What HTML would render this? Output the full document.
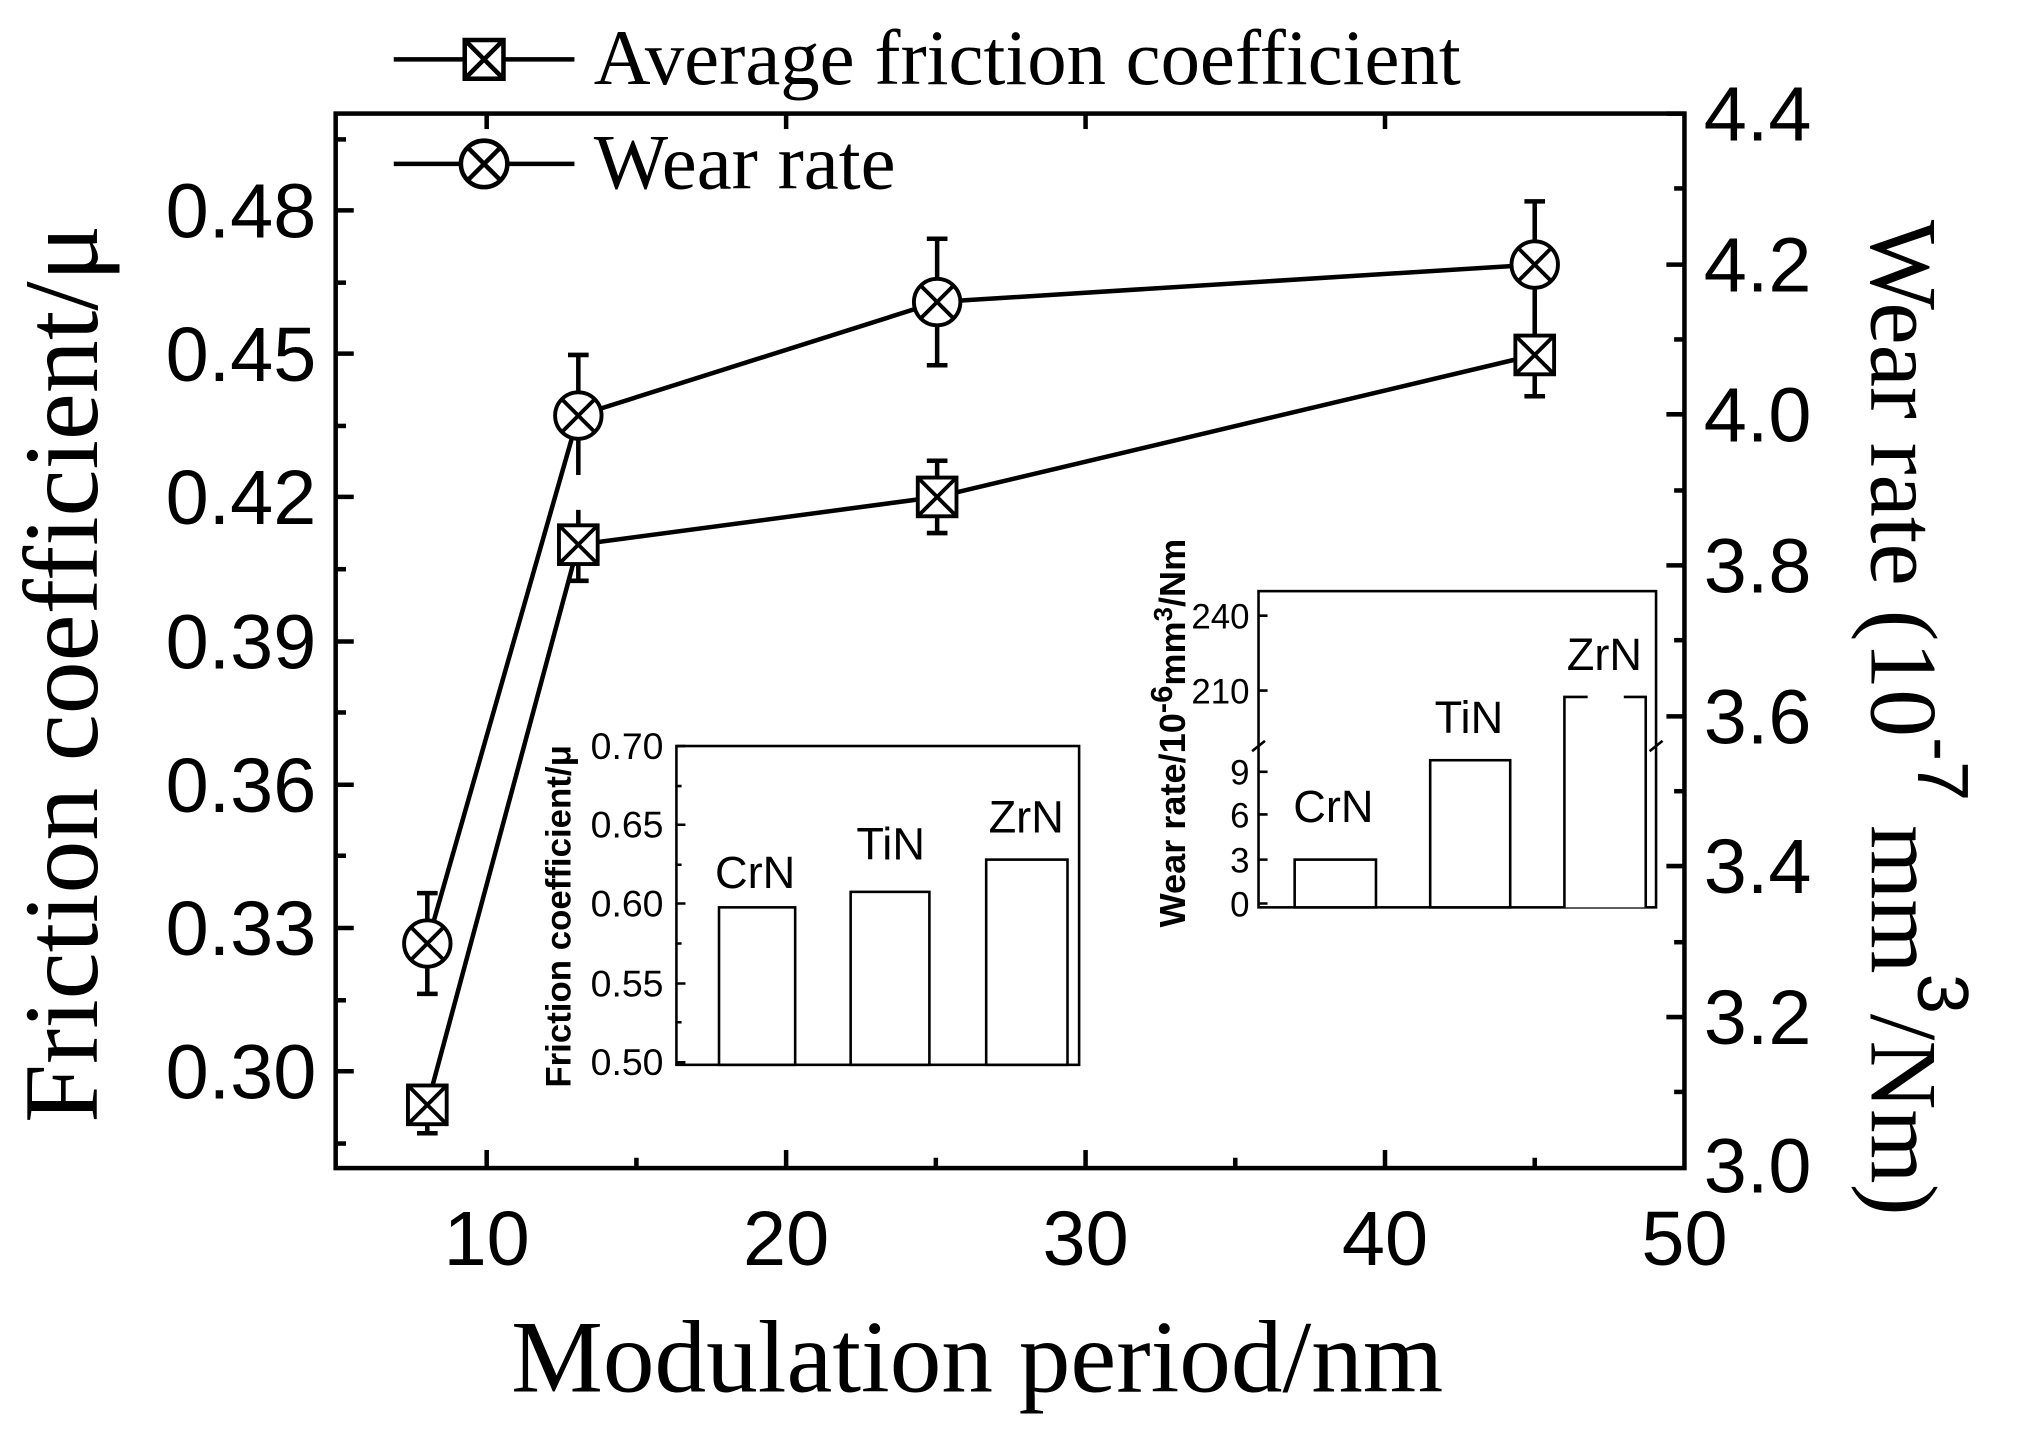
<!DOCTYPE html>
<html><head><meta charset="utf-8"><style>html,body{margin:0;padding:0;background:#fff}svg{display:block}</style></head>
<body>
<svg width="2024" height="1443" viewBox="0 0 1568 1118" xmlns="http://www.w3.org/2000/svg">
<g fill="none" stroke="#000" stroke-width="3.5">
<rect x="260" y="88" width="1045" height="817"/>
</g>
<g stroke="#000" stroke-width="3.5">
<line x1="377" y1="905" x2="377" y2="891"/><line x1="609" y1="905" x2="609" y2="891"/><line x1="841" y1="905" x2="841" y2="891"/><line x1="1073" y1="905" x2="1073" y2="891"/>
<line x1="493" y1="905" x2="493" y2="897"/><line x1="725" y1="905" x2="725" y2="897"/><line x1="957" y1="905" x2="957" y2="897"/><line x1="1189" y1="905" x2="1189" y2="897"/>
<line x1="377" y1="88" x2="377" y2="100"/><line x1="609" y1="88" x2="609" y2="100"/><line x1="841" y1="88" x2="841" y2="100"/><line x1="1073" y1="88" x2="1073" y2="100"/>
<line x1="260" y1="163" x2="274" y2="163"/><line x1="260" y1="274" x2="274" y2="274"/><line x1="260" y1="385" x2="274" y2="385"/><line x1="260" y1="497" x2="274" y2="497"/><line x1="260" y1="608" x2="274" y2="608"/><line x1="260" y1="719" x2="274" y2="719"/><line x1="260" y1="830" x2="274" y2="830"/>
<line x1="260" y1="219" x2="268" y2="219"/><line x1="260" y1="330" x2="268" y2="330"/><line x1="260" y1="441" x2="268" y2="441"/><line x1="260" y1="552" x2="268" y2="552"/><line x1="260" y1="663" x2="268" y2="663"/><line x1="260" y1="775" x2="268" y2="775"/><line x1="260" y1="886" x2="268" y2="886"/><line x1="260" y1="108" x2="268" y2="108"/>
<line x1="1305" y1="88" x2="1291" y2="88"/><line x1="1305" y1="205" x2="1291" y2="205"/><line x1="1305" y1="321" x2="1291" y2="321"/><line x1="1305" y1="438" x2="1291" y2="438"/><line x1="1305" y1="555" x2="1291" y2="555"/><line x1="1305" y1="671" x2="1291" y2="671"/><line x1="1305" y1="788" x2="1291" y2="788"/>
<line x1="1305" y1="146" x2="1297" y2="146"/><line x1="1305" y1="263" x2="1297" y2="263"/><line x1="1305" y1="380" x2="1297" y2="380"/><line x1="1305" y1="496" x2="1297" y2="496"/><line x1="1305" y1="613" x2="1297" y2="613"/><line x1="1305" y1="730" x2="1297" y2="730"/><line x1="1305" y1="846" x2="1297" y2="846"/>
</g>
<g font-family="Liberation Sans, Arial, sans-serif" font-size="60" fill="#000">
<g text-anchor="middle">
<text x="377" y="980">10</text><text x="609" y="980">20</text><text x="841" y="980">30</text><text x="1073" y="980">40</text><text x="1305" y="980">50</text>
</g>
<g text-anchor="end">
<text x="245" y="184">0.48</text><text x="245" y="295">0.45</text><text x="245" y="406">0.42</text><text x="245" y="518">0.39</text><text x="245" y="629">0.36</text><text x="245" y="740">0.33</text><text x="245" y="851">0.30</text>
</g>
<g text-anchor="start">
<text x="1320" y="109">4.4</text><text x="1320" y="226">4.2</text><text x="1320" y="342">4.0</text><text x="1320" y="459">3.8</text><text x="1320" y="576">3.6</text><text x="1320" y="692">3.4</text><text x="1320" y="809">3.2</text><text x="1320" y="924">3.0</text>
</g>
</g>
<g font-family="Liberation Serif, Times New Roman, serif" fill="#000">
<text x="757" y="1078" font-size="80" text-anchor="middle">Modulation period/nm</text>
<text transform="translate(75,522) rotate(-90)" font-size="82" text-anchor="middle">Friction coefficient/μ</text>
<text transform="translate(1450,556) rotate(90)" font-size="74" text-anchor="middle">Wear rate (10<tspan font-family="Liberation Sans" font-size="56" dy="-36">-7</tspan><tspan dy="36"> mm</tspan><tspan font-family="Liberation Sans" font-size="56" dy="-36">3</tspan><tspan dy="36">/Nm)</tspan></text>
<text x="460" y="65" font-size="61">Average friction coefficient</text>
<text x="460" y="146" font-size="61">Wear rate</text>
</g>
<g stroke="#000" stroke-width="3.5" fill="none">
<line x1="305" y1="46" x2="445" y2="46"/>
<rect x="360" y="31" width="30" height="30" fill="#fff"/><line x1="360" y1="31" x2="390" y2="61"/><line x1="390" y1="31" x2="360" y2="61"/>
<line x1="305" y1="127" x2="445" y2="127"/>
<circle cx="375" cy="127" r="18" fill="#fff"/><line x1="362" y1="114" x2="388" y2="140"/><line x1="388" y1="114" x2="362" y2="140"/>
</g>
<g stroke="#000" stroke-width="3.5" fill="none">
<polyline points="331,856 448,422 726,385 1189,275"/>
<polyline points="331,731 448,322 726,234 1189,205"/>
<line x1="331" y1="845" x2="331" y2="878"/><line x1="323" y1="878" x2="339" y2="878"/>
<line x1="448" y1="395" x2="448" y2="450"/><line x1="440" y1="450" x2="456" y2="450"/>
<line x1="726" y1="357" x2="726" y2="413"/><line x1="718" y1="357" x2="734" y2="357"/><line x1="718" y1="413" x2="734" y2="413"/>
<line x1="1189" y1="242" x2="1189" y2="307"/><line x1="1181" y1="307" x2="1197" y2="307"/>
<line x1="331" y1="692" x2="331" y2="770"/><line x1="323" y1="692" x2="339" y2="692"/><line x1="323" y1="770" x2="339" y2="770"/>
<line x1="448" y1="275" x2="448" y2="368"/><line x1="440" y1="275" x2="456" y2="275"/>
<line x1="726" y1="185" x2="726" y2="283"/><line x1="718" y1="185" x2="734" y2="185"/><line x1="718" y1="283" x2="734" y2="283"/>
<line x1="1189" y1="156" x2="1189" y2="255"/><line x1="1181" y1="156" x2="1197" y2="156"/>
</g>
<g stroke="#000" stroke-width="3" fill="#fff">
<g><rect x="316" y="841" width="30" height="30"/><path d="M316 841L346 871M346 841L316 871" fill="none"/></g>
<g><rect x="433" y="407" width="30" height="30"/><path d="M433 407L463 437M463 407L433 437" fill="none"/></g>
<g><rect x="711" y="370" width="30" height="30"/><path d="M711 370L741 400M741 370L711 400" fill="none"/></g>
<g><rect x="1174" y="260" width="30" height="30"/><path d="M1174 260L1204 290M1204 260L1174 290" fill="none"/></g>
<g><circle cx="331" cy="731" r="18"/><path d="M318 718L344 744M344 718L318 744" fill="none"/></g>
<g><circle cx="448" cy="322" r="18"/><path d="M435 309L461 335M461 309L435 335" fill="none"/></g>
<g><circle cx="726" cy="234" r="18"/><path d="M713 221L739 247M739 221L713 247" fill="none"/></g>
<g><circle cx="1189" cy="205" r="18"/><path d="M1176 192L1202 218M1202 192L1176 218" fill="none"/></g>
</g>
<!-- inset 1 -->
<g stroke="#000" stroke-width="2" fill="#fff">
<rect x="524" y="578" width="312" height="247"/>
<rect x="557" y="703" width="59" height="122"/>
<rect x="659" y="691" width="61" height="134"/>
<rect x="764" y="666" width="63" height="159"/>
<path d="M524 578h7M524 639h7M524 700h7M524 762h7M524 823h7M524 609h4M524 670h4M524 731h4M524 792h4" fill="none"/>
</g>
<g font-family="Liberation Sans, Arial, sans-serif" font-size="29" fill="#000" text-anchor="end">
<text x="514" y="588">0.70</text><text x="514" y="649">0.65</text><text x="514" y="710">0.60</text><text x="514" y="772">0.55</text><text x="514" y="833">0.50</text>
</g>
<text transform="translate(442,710) rotate(-90)" font-family="Liberation Sans, Arial, sans-serif" font-weight="bold" font-size="27" text-anchor="middle">Friction coefficient/μ</text>
<!-- inset 2 -->
<g stroke="#000" stroke-width="2" fill="#fff">
<rect x="975" y="458" width="308" height="245"/>
<rect x="1003" y="666" width="63" height="37"/>
<rect x="1108" y="589" width="62" height="114"/>
<path d="M1212 703V540H1275V703" />
<path d="M975 477h7M975 535h7M975 598h7M975 631h7M975 666h7M975 700h7" fill="none"/>
<path d="M970 582l10 -8M1278 582l10 -8" fill="none"/>
</g>
<rect x="1230" y="536" width="28" height="8" fill="#fff"/>
<g font-family="Liberation Sans, Arial, sans-serif" font-size="35" fill="#000" text-anchor="middle">
<text x="585" y="688">CrN</text><text x="690" y="666">TiN</text><text x="795" y="645">ZrN</text>
<text x="1033" y="637">CrN</text><text x="1138" y="568">TiN</text><text x="1243" y="519">ZrN</text>
</g>
<g font-family="Liberation Sans, Arial, sans-serif" font-size="27" fill="#000" text-anchor="end">
<text x="968" y="487">240</text><text x="968" y="545">210</text><text x="968" y="608">9</text><text x="968" y="641">6</text><text x="968" y="676">3</text><text x="968" y="710">0</text>
</g>
<text transform="translate(918,568) rotate(-90)" font-family="Liberation Sans, Arial, sans-serif" font-weight="bold" font-size="28" text-anchor="middle">Wear rate/10<tspan font-size="24" dy="-10">-6</tspan><tspan dy="10">mm</tspan><tspan font-size="20" dy="-10">3</tspan><tspan dy="10">/Nm</tspan></text>
</svg>
</body></html>
